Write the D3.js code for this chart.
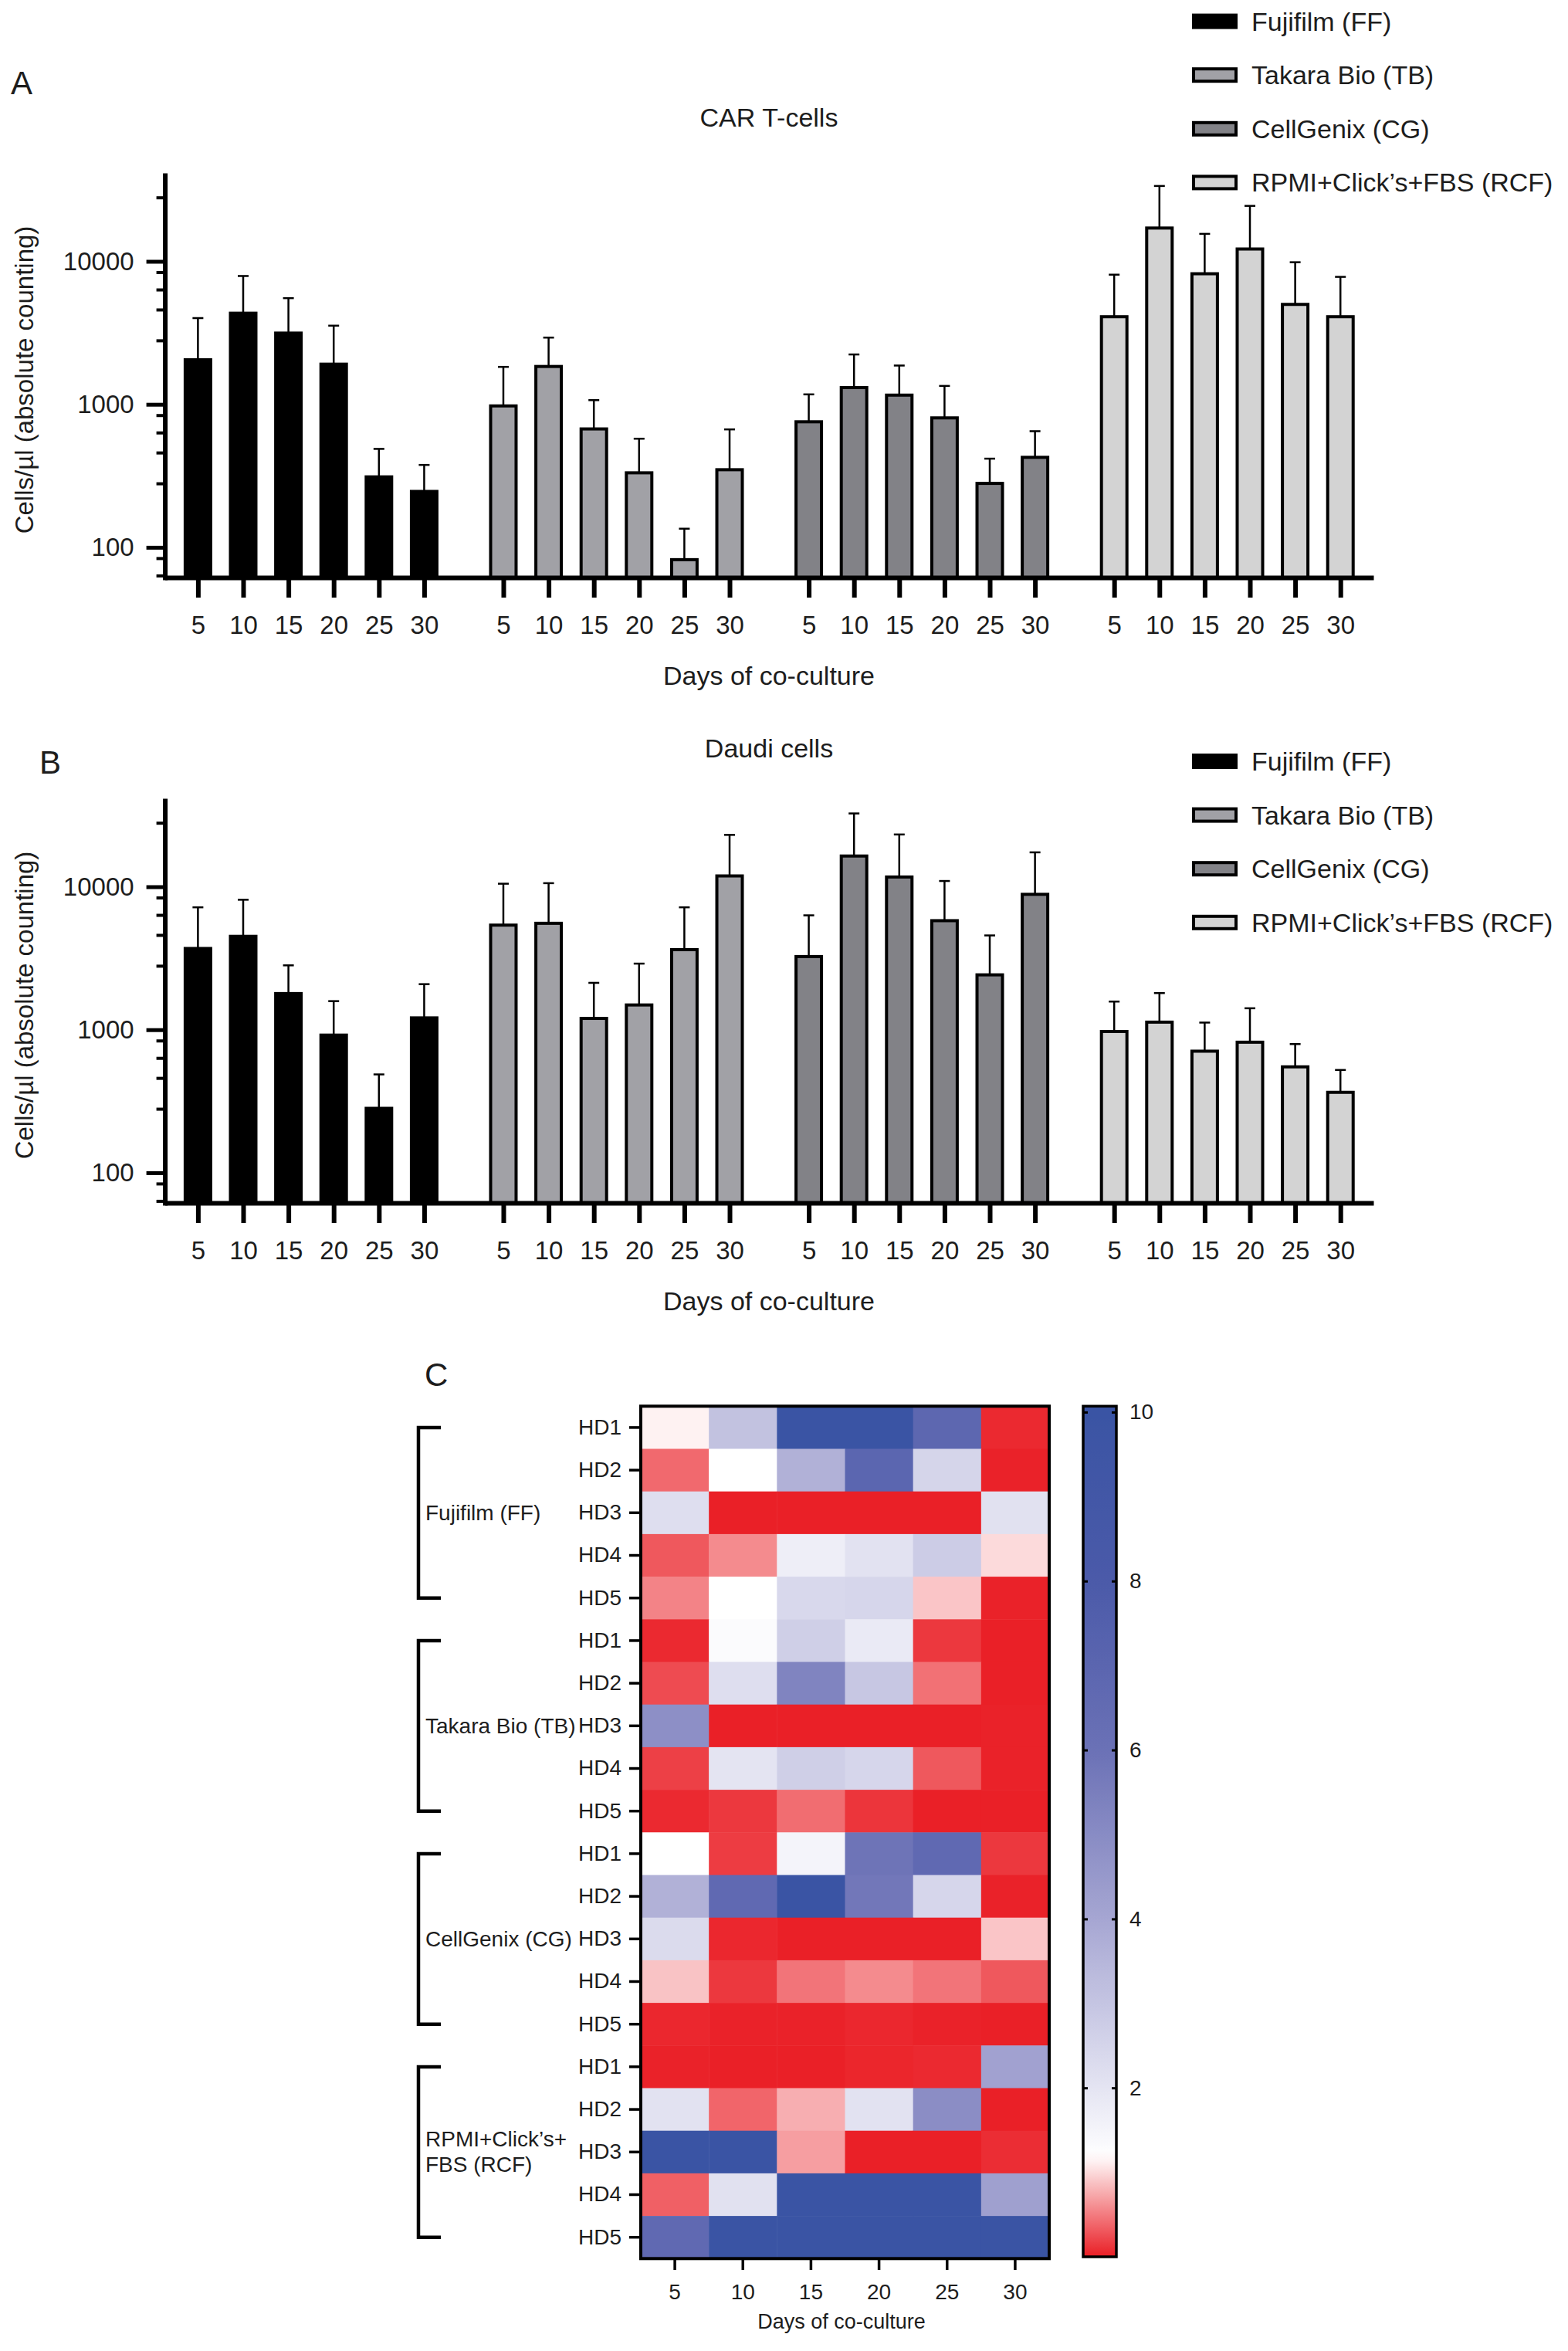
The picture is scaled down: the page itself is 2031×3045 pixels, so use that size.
<!DOCTYPE html>
<html>
<head>
<meta charset="utf-8">
<script src="https://cdn.jsdelivr.net/npm/d3@7"></script>
<style>
body { margin: 0; background: #fff; }
svg text { font-family: "Liberation Sans", Arial, Helvetica, sans-serif; fill: #1d1d1d; }
</style>
</head>
<body>
<div id="fig"></div>
<script>
// ---- data ----
var days = [5, 10, 15, 20, 25, 30]
var media = ["Fujifilm (FF)", "Takara Bio (TB)", "CellGenix (CG)", "RPMI+Click’s+FBS (RCF)"]
var mediaFill = ["#000000", "#a1a1a6", "#828287", "#d3d3d3"]

// panel A, CAR T-cells (cells/µl), mean and upper SD per medium
var carMean = [
    [2050, 4340, 3150, 1910, 311, 246],
    [975, 1840, 673, 332, 82, 349],
    [755, 1310, 1160, 804, 280, 426],
    [4100, 17100, 8190, 12200, 5000, 4100]
]
var carSD = [
    [1960, 3560, 2380, 1640, 177, 131],
    [853, 1090, 397, 243, 53, 319],
    [419, 923, 708, 541, 137, 223],
    [3970, 16560, 7380, 12230, 4860, 3690]
]

// panel B, Daudi cells
var daudiMean = [
    [3700, 4500, 1790, 917, 282, 1210],
    [5390, 5550, 1200, 1490, 3630, 11900],
    [3250, 16400, 11700, 5790, 2420, 8850],
    [972, 1130, 708, 818, 550, 365]
]
var daudiSD = [
    [3480, 3610, 1030, 668, 205, 873],
    [5110, 5040, 928, 1410, 3550, 11150],
    [3060, 16150, 11500, 5180, 2145, 8550],
    [602, 675, 414, 595, 244, 158]
]

var yTicks = [100, 1000, 10000]

// panel C, fold change per donor (rows HD1..HD5) and day
var donors = ["HD1", "HD2", "HD3", "HD4", "HD5"]
var groupLabels = [["Fujifilm (FF)"], ["Takara Bio (TB)"], ["CellGenix (CG)"], ["RPMI+Click’s+", "FBS (RCF)"]]
var fcFF = [
    [1.13, 3.1, 10, 10, 6.9, 0.06],
    [0.4, 1.2, 3.66, 7.0, 2.5, 0.02],
    [2.2, 0.01, 0.01, 0.01, 0.01, 2.1],
    [0.31, 0.58, 1.68, 2.06, 2.77, 1.0],
    [0.54, 1.2, 2.4, 2.45, 0.89, 0.02]
]
var fcTB = [
    [0.06, 1.3, 2.68, 1.8, 0.14, 0.01],
    [0.24, 2.2, 5.28, 2.92, 0.44, 0.01],
    [4.86, 0.01, 0.01, 0.01, 0.01, 0.02],
    [0.18, 2.0, 2.68, 2.45, 0.31, 0.02],
    [0.06, 0.14, 0.42, 0.12, 0.01, 0.01]
]
var fcCG = [
    [1.2, 0.16, 1.5, 5.9, 6.67, 0.14],
    [3.66, 6.67, 10, 5.76, 2.45, 0.02],
    [2.3, 0.05, 0.01, 0.01, 0.01, 0.89],
    [0.88, 0.14, 0.46, 0.58, 0.46, 0.31],
    [0.05, 0.02, 0.02, 0.05, 0.02, 0.01]
]
var fcRCF = [
    [0.02, 0.01, 0.01, 0.04, 0.06, 4.17],
    [2.06, 0.38, 0.77, 2.06, 4.93, 0.01],
    [10, 10, 0.68, 0.01, 0.01, 0.08],
    [0.35, 2.1, 10, 10, 10, 4.24],
    [6.67, 10, 10, 10, 10, 10]
]
var colorTicks = [2, 4, 6, 8, 10]

// ---- svg ----
var W = 2031, H = 3045
var svg = d3.select("#fig").append("svg")
    .attr("width", W)
    .attr("height", H)
svg.append("rect").attr("width", W).attr("height", H).attr("fill", "#fff")

function letter(txt, x, y) {
    svg.append("text")
        .attr("x", x).attr("y", y)
        .attr("dominant-baseline", "central")
        .style("font-size", "42px")
        .text(txt)
}

// slot position of each bar: groups of 6 days with a gap between groups
var groupGap = 0.75
function slot(g, d) { return g * (days.length + groupGap) + d }

function barPanel(opt) {
    var x = d3.scaleLinear()
        .domain([-0.73, slot(3, 5) + 0.73])
        .range([213.6, 1779])
    var y = d3.scaleLog()
        .domain([61.5, 40000])
        .range([opt.bottom, opt.bottom - 521])

    var g = svg.append("g")

    // title
    g.append("text")
        .attr("x", 996).attr("y", opt.titleY)
        .attr("text-anchor", "middle")
        .attr("dominant-baseline", "central")
        .style("font-size", "34px")
        .text(opt.title)

    // bars
    var rows = []
    opt.mean.forEach(function (vals, gi) {
        vals.forEach(function (v, di) {
            rows.push({g: gi, d: di, mean: v, sd: opt.sd[gi][di]})
        })
    })
    var barW = 33
    g.selectAll(".bar")
        .data(rows)
        .enter().append("rect")
        .attr("class", "bar")
        .attr("x", function (r) { return x(slot(r.g, r.d)) - barW / 2 })
        .attr("y", function (r) { return y(r.mean) })
        .attr("width", barW)
        .attr("height", function (r) { return opt.bottom - y(r.mean) })
        .attr("fill", function (r) { return mediaFill[r.g] })
        .attr("stroke", "#000")
        .attr("stroke-width", 4)

    // error bars (upper only)
    var eb = g.selectAll(".err")
        .data(rows)
        .enter().append("g")
        .attr("class", "err")
        .attr("stroke", "#000")
        .attr("stroke-width", 2.5)
    eb.append("line")
        .attr("x1", function (r) { return x(slot(r.g, r.d)) })
        .attr("x2", function (r) { return x(slot(r.g, r.d)) })
        .attr("y1", function (r) { return y(r.mean) })
        .attr("y2", function (r) { return y(r.mean + r.sd) })
    eb.append("line")
        .attr("x1", function (r) { return x(slot(r.g, r.d)) - 7 })
        .attr("x2", function (r) { return x(slot(r.g, r.d)) + 7 })
        .attr("y1", function (r) { return y(r.mean + r.sd) })
        .attr("y2", function (r) { return y(r.mean + r.sd) })

    // y axis: minor ticks then major ticks
    var minor = []
    for (var k = 1; k <= 4; k++)
        [2.8, 4.6, 6.35, 8.4].forEach(function (m) {
            var v = m * Math.pow(10, k)
            if (v > 61.5 && v < 40000) minor.push(v)
        })
    g.append("g")
        .attr("transform", "translate(213.6,0)")
        .call(d3.axisLeft(y).tickValues(minor).tickSize(11).tickSizeOuter(0).tickFormat(""))
        .call(function (a) {
            a.select(".domain").remove()
            a.selectAll(".tick line").attr("stroke-width", 4)
        })
    g.append("g")
        .attr("transform", "translate(213.6,0)")
        .call(d3.axisLeft(y).tickValues(yTicks).tickSize(24).tickSizeOuter(0)
            .tickPadding(16).tickFormat(d3.format("d")))
        .call(function (a) {
            a.select(".domain").attr("stroke-width", 6).attr("stroke-linecap", "square")
            a.selectAll(".tick line").attr("stroke-width", 5)
            a.selectAll("text").style("font-size", "33px").attr("fill", "#1d1d1d")
        })

    // x axis
    var xt = []
    media.forEach(function (m, gi) {
        days.forEach(function (d, di) { xt.push(slot(gi, di)) })
    })
    g.append("g")
        .attr("transform", "translate(0," + opt.bottom + ")")
        .call(d3.axisBottom(x).tickValues(xt).tickSize(26).tickSizeOuter(0).tickPadding(24)
            .tickFormat(function (s) { return days[Math.round(s - Math.floor(s / (days.length + groupGap)) * (days.length + groupGap))] }))
        .call(function (a) {
            a.select(".domain").attr("stroke-width", 6)
            a.selectAll(".tick line").attr("stroke-width", 6)
            a.selectAll("text").style("font-size", "33px").attr("fill", "#1d1d1d")
        })

    g.append("text")
        .attr("x", 996).attr("y", opt.bottom + 127)
        .attr("text-anchor", "middle")
        .attr("dominant-baseline", "central")
        .style("font-size", "34px")
        .text("Days of co-culture")

    g.append("text")
        .attr("transform", "translate(31," + (opt.bottom - 256) + ") rotate(-90)")
        .attr("text-anchor", "middle")
        .attr("dominant-baseline", "central")
        .style("font-size", "33px")
        .text("Cells/µl (absolute counting)")

    // legend
    var lg = g.selectAll(".leg")
        .data(media)
        .enter().append("g")
        .attr("class", "leg")
        .attr("transform", function (m, i) { return "translate(1544," + (opt.legendY + i * 69.6) + ")" })
    lg.append("rect")
        .attr("x", 2).attr("y", -8)
        .attr("width", 55).attr("height", 16)
        .attr("fill", function (m, i) { return mediaFill[i] })
        .attr("stroke", "#000")
        .attr("stroke-width", 4)
    lg.append("text")
        .attr("x", 77).attr("y", 0)
        .attr("dominant-baseline", "central")
        .style("font-size", "34px")
        .text(function (m) { return m })
}

letter("A", 14, 107)
barPanel({title: "CAR T-cells", titleY: 152, bottom: 748, mean: carMean, sd: carSD, legendY: 27.6})
letter("B", 51, 987)
barPanel({title: "Daudi cells", titleY: 969, bottom: 1558, mean: daudiMean, sd: daudiSD, legendY: 986})

// ---- panel C heatmap ----
letter("C", 550, 1780)

var fcGroups = [fcFF, fcTB, fcCG, fcRCF]
var groupKeys = ["FF", "TB", "CG", "RCF"]
var rowKeys = []
var cells = []
fcGroups.forEach(function (grp, gi) {
    grp.forEach(function (row, ri) {
        var key = groupKeys[gi] + "-" + donors[ri]
        rowKeys.push(key)
        row.forEach(function (v, di) { cells.push({row: key, day: days[di], v: v}) })
    })
})

var hx = d3.scaleBand().domain(days).range([830, 1359])
var hy = d3.scaleBand().domain(rowKeys).range([1821.3, 2925.3])
// red -> white -> lavender -> blue, as in the colour bar
var color = d3.scaleLinear()
    .domain([0, 1.2, 1.5, 2, 4, 6, 8, 10])
    .range(["#ea1e25", "#ffffff", "#f4f4fa", "#e4e4f2", "#a6a6d2", "#6b71b6", "#4b5aa9", "#3a54a4"])
    .clamp(true)

var hm = svg.append("g")
hm.selectAll(".cell")
    .data(cells)
    .enter().append("rect")
    .attr("class", "cell")
    .attr("x", function (c) { return hx(c.day) })
    .attr("y", function (c) { return hy(c.row) })
    .attr("width", hx.bandwidth() + 0.5)
    .attr("height", hy.bandwidth() + 0.5)
    .attr("fill", function (c) { return color(c.v) })
hm.append("rect")
    .attr("x", 830).attr("y", 1821.3)
    .attr("width", 529).attr("height", 1104)
    .attr("fill", "none").attr("stroke", "#000").attr("stroke-width", 4)

hm.append("g")
    .attr("transform", "translate(828,0)")
    .call(d3.axisLeft(hy).tickSize(13).tickPadding(10).tickFormat(function (k) { return k.split("-")[1] }))
    .call(function (a) {
        a.select(".domain").remove()
        a.selectAll(".tick line").attr("stroke-width", 3.5)
        a.selectAll("text").style("font-size", "28px").attr("fill", "#1d1d1d")
    })
hm.append("g")
    .attr("transform", "translate(0,2927)")
    .call(d3.axisBottom(hx).tickSize(13).tickPadding(18))
    .call(function (a) {
        a.select(".domain").remove()
        a.selectAll(".tick line").attr("stroke-width", 3.5)
        a.selectAll("text").style("font-size", "28px").attr("fill", "#1d1d1d")
    })
hm.append("text")
    .attr("x", 1090).attr("y", 3007)
    .attr("text-anchor", "middle")
    .attr("dominant-baseline", "central")
    .style("font-size", "27px")
    .text("Days of co-culture")

// group brackets and labels
groupKeys.forEach(function (gk, gi) {
    var top = hy(gk + "-HD1") + hy.bandwidth() / 2
    var bot = hy(gk + "-HD5") + hy.bandwidth() / 2
    var mid = hy(gk + "-HD3") + hy.bandwidth() / 2
    hm.append("path")
        .attr("d", "M571," + top + "H542V" + bot + "H571")
        .attr("fill", "none").attr("stroke", "#000").attr("stroke-width", 4.5)
    var lines = groupLabels[gi]
    lines.forEach(function (ln, li) {
        hm.append("text")
            .attr("x", 551)
            .attr("y", mid + (li - (lines.length - 1) / 2) * 33)
            .attr("dominant-baseline", "central")
            .style("font-size", "28px")
            .text(ln)
    })
})

// colour bar
var cMax = 10.07
var cy = d3.scaleLinear().domain([0, cMax]).range([2923, 1821.3])
var grad = svg.append("defs").append("linearGradient")
    .attr("id", "cbar").attr("x1", 0).attr("y1", 1).attr("x2", 0).attr("y2", 0)
d3.range(0, 81).forEach(function (i) {
    var v = cMax * i / 80
    grad.append("stop").attr("offset", v / cMax).attr("stop-color", color(v))
})
hm.append("rect")
    .attr("x", 1403).attr("y", 1821.3)
    .attr("width", 43).attr("height", 2923 - 1821.3)
    .attr("fill", "url(#cbar)")
    .attr("stroke", "#000").attr("stroke-width", 3.5)
hm.append("g")
    .attr("transform", "translate(1403,0)")
    .call(d3.axisLeft(cy).tickValues(colorTicks).tickSize(-6).tickFormat(""))
    .call(function (a) { a.select(".domain").remove(); a.selectAll(".tick line").attr("stroke-width", 3) })
hm.append("g")
    .attr("transform", "translate(1446,0)")
    .call(d3.axisRight(cy).tickValues(colorTicks).tickSize(-6).tickPadding(17))
    .call(function (a) {
        a.select(".domain").remove()
        a.selectAll(".tick line").attr("stroke-width", 3)
        a.selectAll("text").style("font-size", "28px").attr("fill", "#1d1d1d")
    })
</script>
</body>
</html>
